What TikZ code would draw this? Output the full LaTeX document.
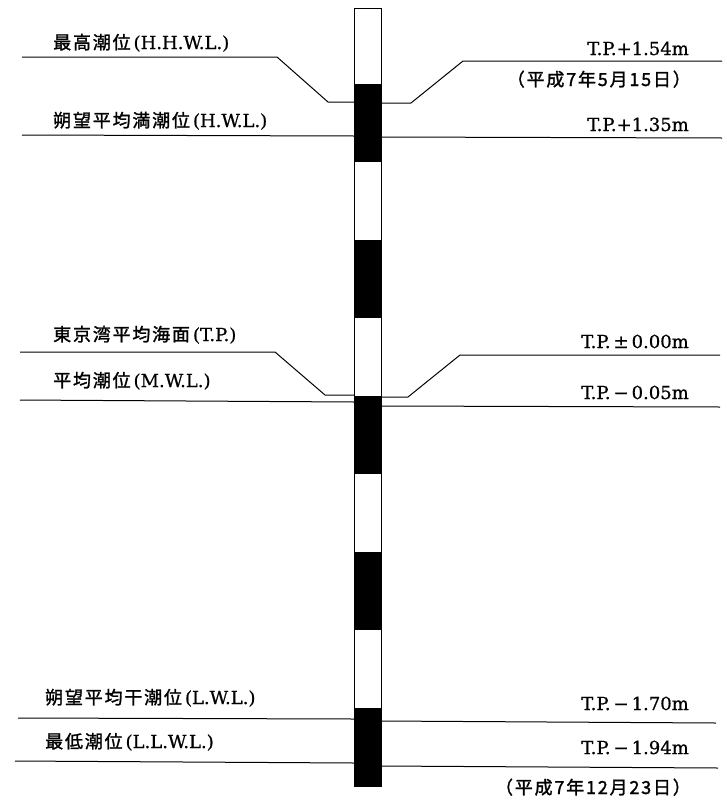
\documentclass[tikz,border=0pt]{standalone}
\usepackage{fontspec}
\setmainfont{DejaVu Serif}[FakeBold=0.8]
\newfontfamily\cjk[FakeBold=1.5,LetterSpace=10]{Noto Sans CJK JP}
\tikzset{
  lab/.style={inner sep=0pt, font=\fontsize{18}{21}\selectfont},
  lvl/.style={line width=1pt, black},
  bandB/.style={fill=black},
  pole/.style={draw=black, line width=1pt}
}
\begin{document}
\begin{tikzpicture}[x=1pt,y=-1pt]
\useasboundingbox (0,0) rectangle (726,806);
% pole
\foreach \a/\b in {84/162,240/318,396/474,552/630,708/786}{
  \fill[bandB] (354,\a) rectangle (381,\b);
}
\draw[pole] (354,8) rectangle (381,786);
% coordinates
\coordinate (pl1) at (354,102); \coordinate (pr1) at (381,103);
\coordinate (pl2) at (354,136); \coordinate (pr2) at (381,137);
\coordinate (pl3) at (354,395); \coordinate (pr3) at (381,397);
\coordinate (pl4) at (354,402); \coordinate (pr4) at (381,406);
\coordinate (pl5) at (354,719); \coordinate (pr5) at (381,721);
\coordinate (pl6) at (354,763); \coordinate (pr6) at (381,766);
% HHWL
\draw[lvl] (22,57) -- (277,57) -- (328,102) -- (pl1);
\draw[lvl] (pr1) -- (411,103) -- (463,61) -- (722,61);
% HWL
\draw[lvl] (22,135) -- (pl2);
\draw[lvl] (pr2) -- (722,138);
% TP
\draw[lvl] (20,352) -- (275,352) -- (325,395) -- (pl3);
\draw[lvl] (pr3) -- (408,397) -- (460,355) -- (720,355);
% MWL
\draw[lvl] (20,400) -- (pl4);
\draw[lvl] (pr4) -- (720,407);
% LWL
\draw[lvl] (18,718) -- (pl5);
\draw[lvl] (pr5) -- (716,723);
% LLWL
\draw[lvl] (15,761) -- (pl6);
\draw[lvl] (pr6) -- (718,768);
% left labels
\node[lab,anchor=base west] (l1) at (53,49) {{\cjk 最高潮位}\,(H.H.W.L.)};
\node[lab,anchor=base west] (l2) at (53,127) {{\cjk 朔望平均満潮位}\,(H.W.L.)};
\node[lab,anchor=base west] (l3) at (53,341) {{\cjk 東京湾平均海面}\,(T.P.)};
\node[lab,anchor=base west] (l4) at (53,387) {{\cjk 平均潮位}\,(M.W.L.)};
\node[lab,anchor=base west] (l5) at (45,704) {{\cjk 朔望平均干潮位}\,(L.W.L.)};
\node[lab,anchor=base west] (l6) at (45,748) {{\cjk 最低潮位}\,(L.L.W.L.)};
% right labels
\node[lab,anchor=base east] (r1) at (689,55) {T.P.+1.54m};
\node[lab,anchor=base east] (d1) at (691,86) {\cjk （平成7年5月15日）};
\node[lab,anchor=base east] (r2) at (689,131) {T.P.+1.35m};
\node[lab,anchor=base east] (r3) at (689,348) {T.P.\,±\,0.00m};
\node[lab,anchor=base east] (r4) at (689,399) {T.P.\,−\,0.05m};
\node[lab,anchor=base east] (r5) at (689,710) {T.P.\,−\,1.70m};
\node[lab,anchor=base east] (r6) at (689,754) {T.P.\,−\,1.94m};
\node[lab,anchor=base east] (d2) at (691,794) {\cjk （平成7年12月23日）};
\end{tikzpicture}
\end{document}
